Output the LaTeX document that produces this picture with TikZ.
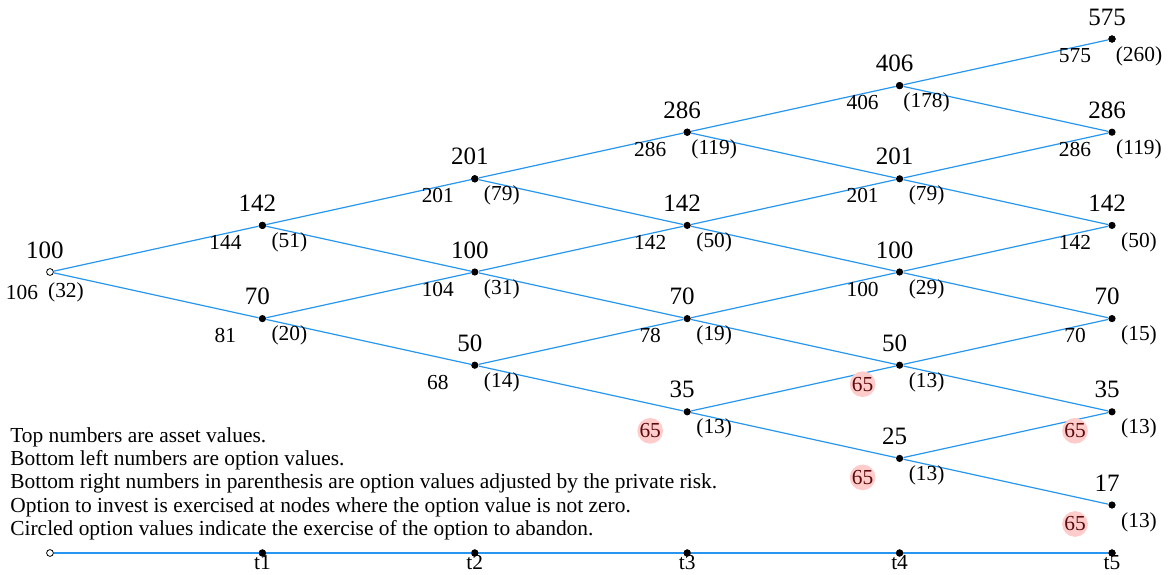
\documentclass[tikz,border=0pt]{standalone}
\usepackage{fontspec}
\setmainfont{Liberation Serif}
\definecolor{edgeblue}{RGB}{38,150,240}
\definecolor{abfill}{RGB}{255,204,204}
\definecolor{abtext}{RGB}{90,10,10}
\begin{document}
\begin{tikzpicture}[x=0.5pt,y=-0.5pt,
  dot/.style={circle,fill=black,inner sep=0pt,minimum size=3.6pt},
  opendot/.style={circle,draw=black,fill=white,line width=0.4pt,inner sep=0pt,minimum size=3.4pt},
  edge/.style={draw=edgeblue,line width=0.6pt},
  asset/.style={font=\fontsize{12.5}{14}\selectfont,inner sep=0pt},
  optval/.style={font=\fontsize{10.7}{12}\selectfont,inner sep=0pt},
  adjval/.style={font=\fontsize{10.7}{12}\selectfont,inner sep=0pt},
  abandon/.style={circle,fill=abfill,text=abtext,inner sep=0pt,minimum size=12pt,font=\fontsize{10.7}{12}\selectfont},
  legend/.style={font=\fontsize{10.7}{11.65}\selectfont,align=left,inner sep=0pt,anchor=north west},
  tlabel/.style={font=\fontsize{10.7}{12}\selectfont,inner sep=0pt,anchor=north}]
\useasboundingbox (0,0) rectangle (1169,574);

% lattice nodes: n<t><k>, t = period, k = number of down moves
\node[opendot] (n00) at (50,272) {};
\foreach \t in {1,...,5}{
  \foreach \k in {0,...,\t}{
    \node[dot] (n\t\k) at ({50+212.4*\t},{272+46.6*(2*\k-\t)}) {};
  }
}

% connectors
\foreach \t/\u in {0/1,1/2,2/3,3/4,4/5}{
  \foreach \k in {0,...,\t}{
    \pgfmathtruncatemacro{\kk}{\k+1}
    \draw[edge] (n\t\k) -- (n\u\k);
    \draw[edge] (n\t\k) -- (n\u\kk);
  }
}
\foreach \t in {1,...,5}{\node[dot] at (n\t0) {};}

% root labels
\node[asset]  (n00-a) at ([shift={(-5,-22)}]n00) {100};
\node[optval] (n00-o) at ([shift={(-28,20)}]n00) {106};
\node[adjval] (n00-r) at ([shift={(16,20)}]n00) {(32)};

% asset value, option value, adjusted option value
\foreach \t/\k/\a/\o/\r in {
  1/0/142/144/(51), 1/1/70/81/(20),
  2/0/201/201/(79), 2/1/100/104/(31), 2/2/50/68/(14),
  3/0/286/286/(119), 3/1/142/142/(50), 3/2/70/78/(19),
  4/0/406/406/(178), 4/1/201/201/(79), 4/2/100/100/(29),
  5/0/575/575/(260), 5/1/286/286/(119), 5/2/142/142/(50), 5/3/70/70/(15)}{
  \node[asset]  (n\t\k-a) at ([shift={(-5,-22)}]n\t\k) {\a};
  \node[optval] (n\t\k-o) at ([shift={(-37,17)}]n\t\k) {\o};
  \node[adjval] (n\t\k-r) at ([shift={(27,17)}]n\t\k) {\r};
}

% nodes where the option to abandon is exercised
\foreach \t/\k/\a/\o/\r in {
  3/3/35/65/(13), 4/3/50/65/(13), 4/4/25/65/(13),
  5/4/35/65/(13), 5/5/17/65/(13)}{
  \node[asset]   (n\t\k-a) at ([shift={(-5,-22)}]n\t\k) {\a};
  \node[abandon] (n\t\k-o) at ([shift={(-37,19)}]n\t\k) {\o};
  \node[adjval]  (n\t\k-r) at ([shift={(27,17)}]n\t\k) {\r};
}

% legend
\node[legend] (legend) at (10,427) {Top numbers are asset values.\\
Bottom left numbers are option values.\\
Bottom right numbers in parenthesis are option values adjusted by the private risk.\\
Option to invest is exercised at nodes where the option value is not zero.\\
Circled option values indicate the exercise of the option to abandon.};

% time axis
\node[opendot] (t0) at (50,553) {};
\foreach \t in {1,...,5}{
  \node[dot] (t\t) at ({50+212.4*\t},553) {};
}
\draw[edge] (t0) -- (t5);
\foreach \t in {1,...,5}{
  \node[dot] at (t\t) {};
  \node[tlabel] (t\t-l) at ([shift={(0,2)}]t\t) {t\t};
}
\end{tikzpicture}
\end{document}
